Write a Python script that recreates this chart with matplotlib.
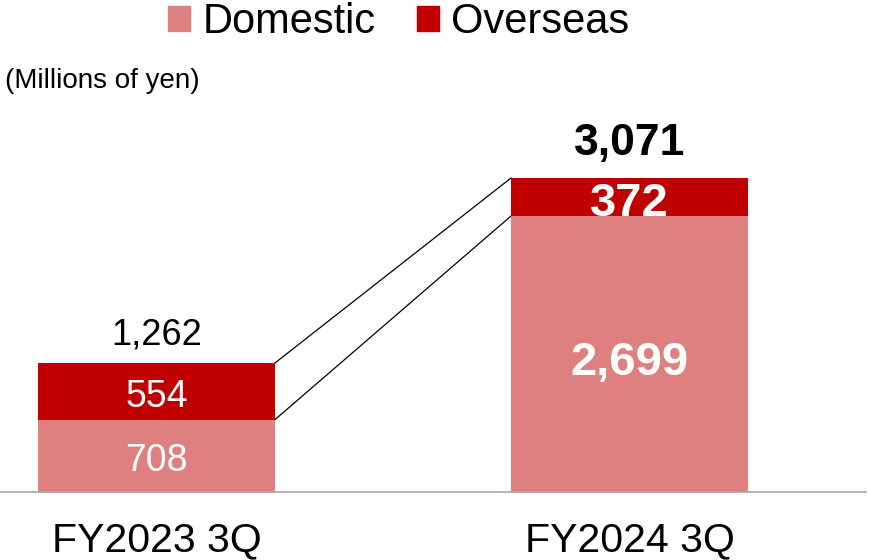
import matplotlib
matplotlib.use("Agg")
import matplotlib.pyplot as plt
from matplotlib.patches import Patch

categories = ["FY2023 3Q", "FY2024 3Q"]
domestic = [708, 2699]
overseas = [554, 372]
totals = [1262, 3071]
unit_label = "(Millions of yen)"

C_DOM = "#DE8080"
C_OVS = "#C00000"
FONT = ["Liberation Sans", "DejaVu Sans"]
plt.rcParams["font.family"] = FONT

W, H = 869, 560
fig = plt.figure(figsize=(W / 100, H / 100), dpi=100)

# axes geometry in pixels
base_y = 492
top_val_px = 178
ymax = 3500
px_per_unit = (base_y - top_val_px) / totals[1]
ax_h = ymax * px_per_unit
ax = fig.add_axes([0, (H - base_y) / H, 866 / W, ax_h / H])

x = [0, 1]
width = 237 / 473
ax.bar(x, domestic, width=width, color=C_DOM, zorder=2)
ax.bar(x, overseas, width=width, bottom=domestic, color=C_OVS, zorder=2)
ax.set_xlim(-156.5 / 473, 1 + (866 - 629.5) / 473)
ax.set_ylim(0, ymax)

# connector lines
hw = width / 2
ax.plot([x[0] + hw, x[1] - hw], [totals[0], totals[1]], color="black", lw=0.9, zorder=1)
ax.plot([x[0] + hw, x[1] - hw], [domestic[0], domestic[1]], color="black", lw=0.9, zorder=1)

for s in ["top", "right", "left"]:
    ax.spines[s].set_visible(False)
ax.spines["bottom"].set_color("#A6A6A6")
ax.spines["bottom"].set_linewidth(1.2)
ax.set_yticks([])
ax.set_xticks(x)
ax.set_xticklabels(categories, fontsize=29.5)
ax.tick_params(axis="x", length=0, pad=59 * 0.72)
for lab in ax.get_xticklabels():
    lab.set_verticalalignment("baseline")

# labels
tot_size = [26, 32]
tot_off = [18, 23]
in_size = [27, 34]
dom_off = [15, 21]
ovs_off = [15.5, 19]
bold = [False, True]
for i in range(2):
    fw = "bold" if bold[i] else "normal"
    ax.annotate(f"{totals[i]:,}", (x[i], totals[i]), xytext=(0, tot_off[i]),
                textcoords="offset pixels", ha="center", va="baseline",
                fontsize=tot_size[i], fontweight=fw, color="black")
    ax.annotate(f"{domestic[i]:,}", (x[i], domestic[i] / 2), xytext=(0, -dom_off[i]),
                textcoords="offset pixels", ha="center", va="baseline",
                fontsize=in_size[i], fontweight=fw, color="white")
    ax.annotate(f"{overseas[i]:,}", (x[i], domestic[i] + overseas[i] / 2), xytext=(0, -ovs_off[i]),
                textcoords="offset pixels", ha="center", va="baseline",
                fontsize=in_size[i], fontweight=fw, color="white")

# legend
handles = [Patch(color=C_DOM, label="Domestic"), Patch(color=C_OVS, label="Overseas")]
fig.legend(handles=handles, loc="upper left", bbox_to_anchor=(168 / W, 1 - 2 / H),
           ncol=2, frameon=False, fontsize=30, handlelength=0.53, handleheight=0.53,
           handletextpad=0.29, columnspacing=1.0, borderpad=0, borderaxespad=0)

fig.text(5 / W, 1 - 88 / H, unit_label, fontsize=20, ha="left", va="baseline")

fig.savefig("out.png", dpi=100)
